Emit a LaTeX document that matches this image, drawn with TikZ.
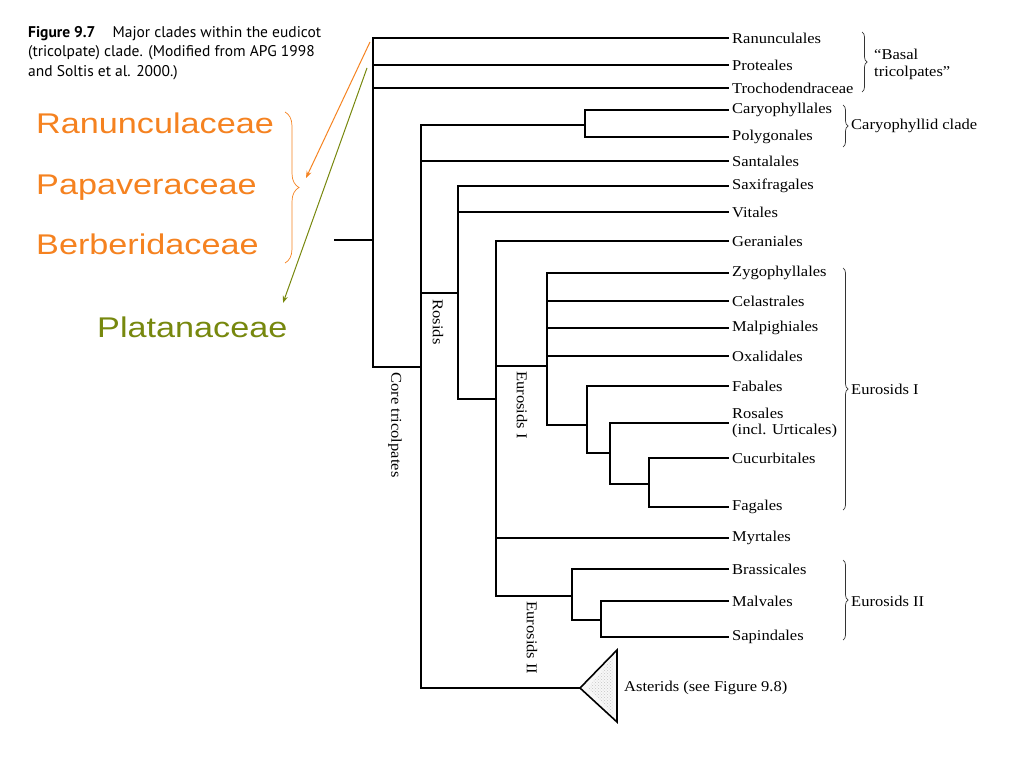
\documentclass[tikz,border=0pt]{standalone}
\usepackage{graphicx}
\usepackage{fontspec}
\setmainfont{Liberation Serif}
\newfontfamily\treefont[FakeStretch=1.1]{Liberation Serif}
\newfontfamily\capfont{PT Sans}
\newfontfamily\bigsans[FakeStretch=1.2]{Liberation Sans}
\usetikzlibrary{patterns,decorations.pathreplacing,arrows.meta}
\definecolor{myorange}{RGB}{245,130,32}
\definecolor{myolive}{RGB}{119,136,14}
\begin{document}
\begin{tikzpicture}[x=1pt,y=-1pt,
  br/.style={line width=1.5pt, line cap=rect},
  tip/.style={anchor=west, inner xsep=4pt, inner ysep=0pt, font=\treefont\fontsize{15}{16}\selectfont, align=left},
  grp/.style={anchor=west, inner sep=0pt, font=\treefont\fontsize{15}{17}\selectfont, align=left},
  rot/.style={rotate=-90, inner sep=0pt, font=\treefont\fontsize{15}{16}\selectfont},
  gbrace/.style={decorate, decoration={brace, amplitude=5pt}, line width=0.7pt, black!80},
  orange/.style={text=myorange, font=\bigsans\fontsize{28.5}{30}\selectfont, anchor=base west, inner sep=0pt},
]
\useasboundingbox (0,0) rectangle (1024,768);

% caption
\node[anchor=north west, inner sep=0pt, align=left, font=\capfont\fontsize{15.5}{19.5}\selectfont] (cap) at (28,26)
 {\textbf{Figure 9.7}\hspace{1.1em}Major clades within the eudicot\\(tricolpate) clade. (Modified from APG 1998\\and Soltis et al. 2000.)};

% tips
\node[tip] (tRan) at (728,38) {Ranunculales};
\node[tip] (tPro) at (728,65) {Proteales};
\node[tip] (tTro) at (728,88) {Trochodendraceae};
\node[tip] (tCar) at (728,110) {Caryophyllales};
\node[tip] (tPol) at (728,137) {Polygonales};
\node[tip] (tSan) at (728,161) {Santalales};
\node[tip] (tSax) at (728,186) {Saxifragales};
\node[tip] (tVit) at (728,212) {Vitales};
\node[tip] (tGer) at (728,241) {Geraniales};
\node[tip] (tZyg) at (728,273) {Zygophyllales};
\node[tip] (tCel) at (728,301) {Celastrales};
\node[tip] (tMal) at (728,328) {Malpighiales};
\node[tip] (tOxa) at (728,356) {Oxalidales};
\node[tip] (tFab) at (728,386) {Fabales};
\node[tip] (tRos) at (728,423) {Rosales\\(incl. Urticales)};
\node[tip] (tCuc) at (728,458) {Cucurbitales};
\node[tip] (tFag) at (728,507) {Fagales};
\node[tip] (tMyr) at (728,538) {Myrtales};
\node[tip] (tBra) at (728,569) {Brassicales};
\node[tip] (tMav) at (728,601) {Malvales};
\node[tip] (tSap) at (728,637) {Sapindales};

% internal nodes
\coordinate (root) at (335,240);
\coordinate (nA) at (373,240);
\coordinate (nB) at (421,367);
\coordinate (nC) at (585,125);
\coordinate (nD) at (458,293);
\coordinate (nE) at (496,399);
\coordinate (nF) at (547,366);
\coordinate (nG) at (587,425);
\coordinate (nH) at (610,453);
\coordinate (nI) at (649,484);
\coordinate (nK) at (572,596);
\coordinate (nL) at (601,620);
\coordinate (astTip) at (580,688);

\draw[br] (root) -- (nA);
\draw[br] (nA) |- (tRan.west);
\draw[br] (nA) |- (tPro.west);
\draw[br] (nA) |- (tTro.west);
\draw[br] (nA) |- (nB);
\draw[br] (nB) |- (nC);
\draw[br] (nB) |- (tSan.west);
\draw[br] (nB) |- (nD);
\draw[br] (nB) |- (astTip);
\draw[br] (nC) |- (tCar.west);
\draw[br] (nC) |- (tPol.west);
\draw[br] (nD) |- (tSax.west);
\draw[br] (nD) |- (tVit.west);
\draw[br] (nD) |- (nE);
\draw[br] (nE) |- (tGer.west);
\draw[br] (nE) |- (nF);
\draw[br] (nE) |- (tMyr.west);
\draw[br] (nE) |- (nK);
\draw[br] (nF) |- (tZyg.west);
\draw[br] (nF) |- (tCel.west);
\draw[br] (nF) |- (tMal.west);
\draw[br] (nF) |- (tOxa.west);
\draw[br] (nF) |- (nG);
\draw[br] (nG) |- (tFab.west);
\draw[br] (nG) |- (nH);
\draw[br] (nH) |- (tRos.west);
\draw[br] (nH) |- (nI);
\draw[br] (nI) |- (tCuc.west);
\draw[br] (nI) |- (tFag.west);
\draw[br] (nK) |- (tBra.west);
\draw[br] (nK) |- (nL);
\draw[br] (nL) |- (tMav.west);
\draw[br] (nL) |- (tSap.west);

% asterids triangle
\filldraw[line width=1.6pt, line join=miter, fill=gray!6] (astTip) -- (617,650) -- (617,722) -- cycle;
\fill[pattern={crosshatch dots}, pattern color=gray!45] (astTip) ++(8,0) -- (613,657) -- (613,715) -- cycle;
\node[grp] (ast) at (624,688) {Asterids (see Figure 9.8)};

% clade labels (rotated)
\node[rot] (lRos) at (438,322) {Rosids};
\node[rot] (lCore) at (395,425) {Core tricolpates};
\node[rot] (lEu1) at (522,405) {Eurosids I};
\node[rot] (lEu2) at (532,638) {Eurosids II};

% braces
\draw[gbrace] (862,32) -- (862,92);
\node[grp] (gBas) at (874,64) {“Basal\\tricolpates”};
\draw[gbrace] (843,105) -- (843,147);
\node[grp] (gCar) at (851,126) {Caryophyllid clade};
\draw[gbrace] (843,268) -- (843,510);
\node[grp] (gEu1) at (851,389) {Eurosids I};
\draw[gbrace] (843,560) -- (843,640);
\node[grp] (gEu2) at (851,601) {Eurosids II};

% orange / olive annotations
\node[orange] (oRan) at (36,133) {Ranunculaceae};
\node[orange] (oPap) at (36,194) {Papaveraceae};
\node[orange] (oBer) at (36,254) {Berberidaceae};
\node[orange, text=myolive] (oPla) at (97,337) {Platanaceae};
\draw[decorate, decoration={brace, amplitude=14pt}, myorange, line width=0.7pt] (285,112) -- (285,263);
\coordinate (oaS) at (370,42);
\coordinate (oaE) at (306,178);
\coordinate (gaS) at (367,68);
\coordinate (gaE) at (283,303);
\draw[myorange, line width=1pt, -{Stealth[length=7pt,width=5pt]}] (oaS) -- (oaE);
\draw[myolive, line width=1pt, -{Stealth[length=7pt,width=5pt]}] (gaS) -- (gaE);
\end{tikzpicture}
\end{document}
